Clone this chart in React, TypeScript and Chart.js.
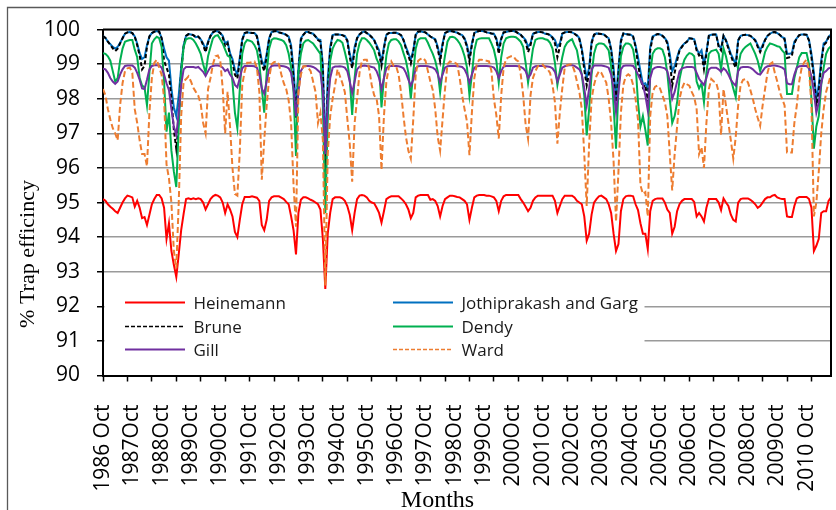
import React, { useEffect, useRef } from 'react';
import { Chart, registerables } from 'chart.js';

Chart.register(...registerables);

// Year labels shown every 12 months, starting October 1986
const yearLabels = [
  '1986 Oct', '1987Oct', '1988Oct', '1989Oct', '1990Oct', '1991Oct', '1992Oct',
  '1993Oct', '1994Oct', '1995Oct', '1996Oct', '1997Oct', '1998Oct', '1999Oct',
  '2000Oct', '2001Oct', '2002Oct', '2003Oct', '2004Oct', '2005Oct', '2006Oct',
  '2007Oct', '2008Oct', '2009Oct', '2010 Oct',
];

// Monthly trap efficiency (%), Oct 1986 onwards, one row per water year
const heinemann = [
  95.1, 95.05, 94.95, 94.88, 94.82, 94.75, 94.7, 94.85, 95.0, 95.12, 95.2, 95.18,
  95.15, 94.88, 95.05, 94.85, 94.55, 94.58, 94.35, 94.65, 94.95, 95.1, 95.22, 95.22,
  95.12, 94.85, 93.95, 94.4, 93.6, 93.2, 92.85, 93.5, 94.2, 94.67, 95.1, 95.12,
  95.1, 95.12, 95.1, 95.12, 95.1, 95.0, 94.8, 94.95, 95.1, 95.18, 95.22, 95.2,
  95.15, 95.0, 94.7, 94.95, 94.8, 94.6, 94.15, 94.0, 94.5, 94.95, 95.16, 95.16,
  95.16, 95.18, 95.16, 95.14, 95.05, 94.35, 94.2, 94.5, 95.05, 95.15, 95.18, 95.18,
  95.18, 95.14, 95.1, 95.02, 94.95, 94.6, 94.2, 93.5, 94.7, 95.08, 95.15, 95.15,
  95.12, 95.08, 95.05, 95.0, 94.95, 94.8, 93.95, 92.5, 94.1, 94.7, 95.1, 95.15,
  95.15, 95.15, 95.12, 95.05, 94.9, 94.65, 94.2, 94.7, 95.1, 95.2, 95.22, 95.2,
  95.15, 95.05, 95.0, 94.98, 94.85, 94.7, 94.42, 94.75, 95.1, 95.15, 95.18, 95.18,
  95.18, 95.18, 95.12, 95.05, 94.95, 94.8, 94.55, 94.7, 95.15, 95.2, 95.22, 95.22,
  95.22, 95.22, 95.08, 95.1, 95.05, 94.9, 94.6, 94.9, 95.1, 95.15, 95.2, 95.2,
  95.18, 95.16, 95.15, 95.1, 95.05, 94.95, 94.5, 94.85, 95.15, 95.2, 95.22, 95.22,
  95.22, 95.2, 95.2, 95.18, 95.15, 95.05, 94.75, 95.05, 95.18, 95.22, 95.22, 95.22,
  95.22, 95.22, 95.22, 95.1, 95.0, 94.88, 94.75, 94.85, 95.05, 95.15, 95.2, 95.2,
  95.2, 95.2, 95.2, 95.2, 95.2, 95.05, 94.7, 94.9, 95.1, 95.2, 95.2, 95.2,
  95.2, 95.15, 95.05, 95.0, 94.95, 94.6, 93.9, 94.1, 94.65, 95.0, 95.1, 95.18,
  95.2, 95.15, 95.1, 94.95, 94.7, 94.1, 93.6, 93.8, 94.75, 95.1, 95.18, 95.2,
  95.2, 95.18, 94.95, 94.78, 94.4, 94.1, 94.1, 93.65, 94.75, 95.05, 95.1, 95.12,
  95.12, 95.12, 95.0, 94.8, 94.7, 94.1, 94.3, 94.75, 94.95, 95.05, 95.1, 95.1,
  95.1, 95.1, 95.02, 94.6, 94.7, 94.6, 94.45, 94.85, 95.1, 95.1, 95.1, 95.1,
  95.0, 94.78, 95.12, 95.0, 94.9, 94.65, 94.5, 94.45, 95.0, 95.1, 95.12, 95.12,
  95.12, 95.08, 95.02, 94.95, 94.85, 94.9, 95.0, 95.1, 95.15, 95.15, 95.2, 95.22,
  95.15, 95.12, 95.1, 95.1, 94.6, 94.58, 94.58, 94.9, 95.12, 95.16, 95.16, 95.16,
  95.16, 95.1, 94.85, 93.6, 93.75, 93.95, 94.7, 94.75, 94.75, 95.05, 95.15,
];

const jothiprakash = [
  99.81, 99.76, 99.65, 99.58, 99.5, 99.45, 99.5, 99.62, 99.75, 99.88, 99.92, 99.93,
  99.9, 99.8, 99.6, 99.32, 99.15, 99.2, 99.55, 99.8, 99.9, 99.94, 99.96, 99.94,
  99.75, 99.45, 99.2, 99.1, 98.3, 97.75, 97.5, 98.1, 98.9, 99.55, 99.82, 99.87,
  99.86, 99.84, 99.78, 99.8, 99.72, 99.6, 99.42, 99.65, 99.82, 99.92, 99.96, 99.95,
  99.9, 99.82, 99.6, 99.65, 99.32, 99.15, 98.85, 98.7, 99.2, 99.72, 99.9, 99.92,
  99.91, 99.9, 99.9, 99.82, 99.5, 99.1, 98.95, 99.3, 99.75, 99.93, 99.95, 99.96,
  99.92, 99.9, 99.88, 99.85, 99.8, 99.55, 98.85, 97.7, 98.9, 99.75, 99.85, 99.93,
  99.93, 99.9, 99.88, 99.8, 99.72, 99.7, 99.0, 96.5, 98.6, 99.5, 99.84, 99.86,
  99.86, 99.85, 99.84, 99.82, 99.7, 99.3, 99.0, 99.5, 99.75, 99.86, 99.92, 99.95,
  99.9, 99.85, 99.78, 99.7, 99.55, 99.4, 99.05, 99.5, 99.85, 99.9, 99.9, 99.91,
  99.91, 99.88, 99.84, 99.7, 99.5, 99.32, 99.13, 99.4, 99.85, 99.94, 99.95, 99.93,
  99.92, 99.86, 99.8, 99.76, 99.72, 99.51, 99.18, 99.6, 99.9, 99.94, 99.96, 99.95,
  99.93, 99.91, 99.87, 99.84, 99.75, 99.55, 99.18, 99.6, 99.9, 99.94, 99.96, 99.96,
  99.95, 99.92, 99.91, 99.89, 99.88, 99.75, 99.45, 99.75, 99.92, 99.93, 99.95, 99.96,
  99.96, 99.94, 99.89, 99.85, 99.78, 99.7, 99.5, 99.6, 99.88, 99.91, 99.93, 99.93,
  99.92, 99.88, 99.87, 99.84, 99.78, 99.7, 99.5, 99.6, 99.88, 99.92, 99.93, 99.93,
  99.92, 99.88, 99.84, 99.75, 99.45, 99.0, 98.6, 98.9, 99.65, 99.85, 99.89, 99.88,
  99.87, 99.86, 99.8, 99.75, 99.45, 98.9, 98.0, 98.9, 99.7, 99.89, 99.87, 99.86,
  99.85, 99.8, 99.55, 99.2, 98.8, 98.42, 98.45, 98.3, 99.5, 99.8, 99.84, 99.87,
  99.86, 99.82, 99.75, 99.65, 99.3, 98.8, 98.95, 99.2, 99.42, 99.52, 99.6, 99.65,
  99.75, 99.74, 99.72, 99.45, 99.3, 99.4, 99.0, 99.35, 99.82, 99.85, 99.86, 99.86,
  99.55, 99.45, 99.82, 99.7, 99.5, 99.3, 99.15, 99.0, 99.7, 99.82, 99.84, 99.85,
  99.84, 99.82, 99.76, 99.7, 99.55, 99.4, 99.55, 99.7, 99.82, 99.88, 99.92, 99.93,
  99.9, 99.85, 99.78, 99.75, 99.3, 99.3, 99.32, 99.65, 99.75, 99.84, 99.86, 99.86,
  99.85, 99.7, 99.3, 98.75, 98.0, 98.4, 99.1, 99.6, 99.65, 99.79, 99.86,
];

const brune = [
  99.81, 99.76, 99.65, 99.56, 99.46, 99.38, 99.45, 99.6, 99.75, 99.88, 99.92, 99.93,
  99.9, 99.8, 99.55, 99.25, 98.85, 98.95, 99.5, 99.8, 99.9, 99.94, 99.96, 99.94,
  99.75, 99.1, 98.9, 98.7, 98.0, 97.1, 96.55, 97.4, 98.8, 99.5, 99.82, 99.87,
  99.86, 99.84, 99.78, 99.8, 99.72, 99.55, 99.35, 99.62, 99.82, 99.92, 99.96, 99.95,
  99.9, 99.78, 99.5, 99.6, 99.25, 99.05, 98.7, 98.58, 99.1, 99.7, 99.9, 99.92,
  99.91, 99.9, 99.9, 99.8, 99.4, 99.0, 98.8, 99.2, 99.72, 99.93, 99.95, 99.96,
  99.92, 99.9, 99.88, 99.85, 99.78, 99.45, 98.57, 97.45, 98.7, 99.7, 99.85, 99.93,
  99.93, 99.9, 99.88, 99.8, 99.7, 99.65, 98.8, 95.7, 98.2, 99.4, 99.84, 99.86,
  99.86, 99.85, 99.84, 99.8, 99.68, 99.2, 98.88, 99.4, 99.75, 99.86, 99.92, 99.95,
  99.9, 99.85, 99.78, 99.7, 99.5, 99.3, 98.95, 99.45, 99.85, 99.9, 99.9, 99.91,
  99.91, 99.88, 99.84, 99.7, 99.45, 99.25, 99.02, 99.35, 99.85, 99.94, 99.95, 99.93,
  99.92, 99.86, 99.8, 99.76, 99.7, 99.45, 99.08, 99.55, 99.9, 99.94, 99.96, 99.95,
  99.93, 99.91, 99.87, 99.84, 99.72, 99.5, 99.08, 99.55, 99.9, 99.94, 99.96, 99.96,
  99.95, 99.92, 99.91, 99.89, 99.88, 99.72, 99.3, 99.72, 99.92, 99.93, 99.95, 99.96,
  99.96, 99.94, 99.89, 99.85, 99.76, 99.65, 99.35, 99.55, 99.88, 99.91, 99.93, 99.93,
  99.92, 99.88, 99.87, 99.84, 99.76, 99.6, 99.2, 99.5, 99.88, 99.92, 99.93, 99.93,
  99.92, 99.88, 99.82, 99.72, 99.4, 98.85, 98.38, 98.75, 99.6, 99.85, 99.89, 99.88,
  99.87, 99.86, 99.8, 99.73, 99.4, 98.7, 97.8, 98.7, 99.65, 99.89, 99.87, 99.86,
  99.85, 99.8, 99.5, 99.0, 98.6, 98.32, 98.4, 97.9, 99.4, 99.78, 99.84, 99.87,
  99.86, 99.82, 99.75, 99.6, 99.15, 98.38, 98.75, 99.1, 99.4, 99.5, 99.6, 99.65,
  99.75, 99.74, 99.7, 99.4, 99.25, 99.3, 98.85, 99.3, 99.82, 99.85, 99.86, 99.86,
  99.5, 99.4, 99.82, 99.68, 99.45, 99.25, 99.05, 98.9, 99.68, 99.82, 99.84, 99.85,
  99.84, 99.82, 99.76, 99.68, 99.5, 99.35, 99.5, 99.7, 99.82, 99.88, 99.92, 99.93,
  99.9, 99.85, 99.78, 99.72, 99.18, 99.2, 99.25, 99.6, 99.75, 99.84, 99.86, 99.86,
  99.85, 99.68, 99.2, 98.6, 97.8, 98.2, 99.0, 99.55, 99.62, 99.78, 99.86,
];

const dendy = [
  99.32, 99.3, 99.23, 99.1, 98.8, 98.5, 98.6, 99.1, 99.45, 99.65, 99.68, 99.7,
  99.7, 99.42, 99.2, 98.6, 98.38, 98.33, 97.81, 98.75, 99.6, 99.72, 99.79, 99.75,
  99.5, 98.5, 97.05, 97.6, 96.5, 95.9, 95.45, 97.2, 98.75, 99.5, 99.72, 99.75,
  99.75, 99.7, 99.6, 99.46, 99.3, 99.0, 98.75, 99.23, 99.5, 99.75, 99.82, 99.84,
  99.72, 99.6, 99.42, 99.25, 99.2, 98.47, 97.6, 97.15, 98.28, 99.3, 99.6, 99.7,
  99.68, 99.65, 99.55, 99.4, 99.0, 98.3, 97.6, 98.75, 99.45, 99.7, 99.75, 99.74,
  99.72, 99.7, 99.66, 99.55, 99.3, 98.9, 98.2, 96.35, 98.75, 99.3, 99.6, 99.68,
  99.7, 99.65, 99.6, 99.5, 99.4, 99.3, 97.8, 94.7, 97.4, 99.1, 99.45, 99.6,
  99.7, 99.68, 99.62, 99.35, 99.05, 98.57, 97.53, 98.6, 99.3, 99.6, 99.75, 99.75,
  99.7, 99.62, 99.52, 99.4, 99.15, 99.0, 97.75, 98.6, 99.25, 99.6, 99.7, 99.72,
  99.72, 99.66, 99.55, 99.32, 99.1, 98.75, 98.0, 98.75, 99.45, 99.7, 99.75, 99.75,
  99.75, 99.62, 99.45, 99.3, 99.1, 98.8, 98.19, 98.8, 99.25, 99.65, 99.78, 99.79,
  99.77, 99.7, 99.6, 99.45, 99.23, 98.9, 98.1, 98.7, 99.4, 99.7, 99.74, 99.75,
  99.75, 99.75, 99.75, 99.6, 99.42, 99.1, 98.47, 99.2, 99.6, 99.75, 99.78, 99.79,
  99.79, 99.78, 99.72, 99.65, 99.5, 99.04, 98.47, 98.95, 99.45, 99.7, 99.74, 99.75,
  99.75, 99.72, 99.7, 99.62, 99.45, 99.04, 98.4, 98.8, 99.2, 99.5, 99.62, 99.68,
  99.72, 99.55, 99.4, 99.0, 98.7, 98.1, 96.94, 97.7, 98.7, 99.3, 99.55, 99.6,
  99.6, 99.58, 99.5, 99.4, 98.94, 97.8, 96.56, 98.28, 99.23, 99.5, 99.6, 99.6,
  99.56, 99.42, 99.0, 97.9, 97.2, 97.5, 97.1, 96.65, 98.75, 99.3, 99.42, 99.46,
  99.46, 99.42, 99.2, 98.75, 98.0, 97.3, 97.5, 97.9, 98.57, 98.9, 99.13, 99.25,
  99.32, 99.3, 99.23, 98.5, 98.3, 98.45, 97.9, 98.75, 99.3, 99.38, 99.4, 99.42,
  99.3, 98.85, 99.46, 99.23, 98.9, 98.57, 98.3, 98.05, 98.94, 99.3, 99.42, 99.5,
  99.55, 99.6, 99.45, 99.3, 99.1, 98.8, 99.05, 99.35, 99.5, 99.6, 99.58, 99.55,
  99.52, 99.5, 99.4, 99.32, 98.14, 98.14, 98.14, 98.6, 98.9, 99.2, 99.32, 99.32,
  99.32, 99.0, 98.0, 96.56, 97.2, 97.5, 98.4, 98.9, 99.3, 99.45, 99.52,
];

const gill = [
  98.87, 98.85, 98.75, 98.6, 98.5, 98.43, 98.5, 98.7, 98.85, 98.95, 98.96, 98.96,
  98.96, 98.9, 98.75, 98.55, 98.3, 98.28, 98.55, 98.85, 98.95, 98.97, 98.97, 98.96,
  98.9, 98.7, 98.45, 98.25, 97.7, 97.2, 96.95, 97.6, 98.4, 98.85, 98.92, 98.92,
  98.92, 98.92, 98.9, 98.92, 98.85, 98.78, 98.66, 98.8, 98.92, 98.95, 98.96, 98.96,
  98.95, 98.9, 98.8, 98.85, 98.7, 98.6, 98.4, 98.33, 98.6, 98.88, 98.95, 98.95,
  98.95, 98.95, 98.94, 98.9, 98.7, 98.3, 98.15, 98.5, 98.85, 98.95, 98.96, 98.96,
  98.96, 98.95, 98.94, 98.92, 98.88, 98.75, 98.3, 97.5, 98.2, 98.8, 98.93, 98.95,
  98.95, 98.94, 98.92, 98.88, 98.82, 98.75, 98.2, 96.4, 97.9, 98.6, 98.9, 98.93,
  98.93, 98.94, 98.93, 98.9, 98.8, 98.5, 98.17, 98.5, 98.85, 98.93, 98.95, 98.96,
  98.95, 98.94, 98.92, 98.9, 98.8, 98.6, 98.28, 98.6, 98.88, 98.94, 98.95, 98.95,
  98.95, 98.94, 98.92, 98.88, 98.75, 98.55, 98.38, 98.55, 98.88, 98.94, 98.95, 98.95,
  98.95, 98.94, 98.92, 98.9, 98.85, 98.72, 98.47, 98.7, 98.9, 98.94, 98.95, 98.95,
  98.95, 98.94, 98.93, 98.92, 98.85, 98.7, 98.47, 98.7, 98.9, 98.94, 98.95, 98.95,
  98.95, 98.95, 98.94, 98.93, 98.9, 98.8, 98.6, 98.8, 98.93, 98.95, 98.95, 98.95,
  98.95, 98.95, 98.94, 98.92, 98.88, 98.8, 98.6, 98.7, 98.9, 98.94, 98.95, 98.95,
  98.95, 98.94, 98.93, 98.92, 98.88, 98.78, 98.5, 98.7, 98.9, 98.94, 98.96, 98.97,
  98.97, 98.95, 98.9, 98.85, 98.7, 98.3, 97.8, 98.3, 98.85, 98.96, 98.96, 98.96,
  98.96, 98.95, 98.93, 98.9, 98.7, 98.3, 97.62, 98.2, 98.85, 98.95, 98.96, 98.96,
  98.96, 98.95, 98.85, 98.7, 98.55, 98.4, 98.1, 97.67, 98.6, 98.85, 98.9, 98.92,
  98.92, 98.9, 98.88, 98.8, 98.5, 98.0, 98.2, 98.5, 98.8, 98.88, 98.9, 98.92,
  98.92, 98.92, 98.9, 98.75, 98.58, 98.48, 98.4, 98.6, 98.85, 98.9, 98.9, 98.9,
  98.85, 98.78, 98.88, 98.82, 98.7, 98.55, 98.45, 98.38, 98.8, 98.9, 98.92, 98.92,
  98.92, 98.9, 98.85, 98.78, 98.72, 98.7, 98.8, 98.9, 98.94, 98.95, 98.96, 98.96,
  98.95, 98.93, 98.9, 98.85, 98.45, 98.42, 98.42, 98.7, 98.9, 98.94, 98.95, 98.95,
  98.95, 98.88, 98.65, 98.2, 97.6, 97.9, 98.45, 98.75, 98.8, 98.88, 98.9,
];

const ward = [
  98.28, 98.1, 97.7, 97.4, 97.15, 97.0, 96.8, 97.81, 98.45, 98.8, 98.88, 98.9,
  98.75, 97.7, 97.3, 96.8, 96.4, 96.4, 96.05, 97.6, 98.6, 99.04, 99.13, 98.9,
  98.7, 98.0, 96.1, 95.7, 95.0, 93.6, 93.1, 95.0, 97.5, 98.5, 98.57, 98.65,
  98.5, 98.32, 98.2, 98.09, 97.85, 97.3, 97.0, 98.28, 98.6, 99.0, 99.23, 99.25,
  99.1, 98.3, 97.0, 98.2, 97.2, 96.0, 95.25, 95.2, 96.5, 98.4, 98.8, 99.04,
  99.04, 99.06, 99.08, 98.9, 98.2, 95.66, 96.8, 97.81, 98.6, 99.0, 99.06, 99.08,
  99.0, 98.7, 98.45, 98.28, 97.95, 97.3, 95.5, 94.3, 98.2, 98.7, 98.94, 98.94,
  98.9, 98.8, 98.5, 98.2, 97.3, 97.6, 96.8, 92.6, 96.4, 97.5, 98.0, 98.4,
  98.85, 98.65, 98.45, 98.19, 97.43, 96.7, 95.6, 97.3, 98.0, 98.75, 99.1, 99.13,
  99.13, 98.85, 98.4, 98.1, 98.0, 97.5, 95.94, 97.5, 98.5, 98.9, 99.08, 98.95,
  98.94, 98.7, 98.19, 97.5, 96.9, 96.5, 96.27, 97.4, 98.7, 99.1, 99.15, 99.18,
  99.1, 98.8, 98.5, 98.25, 97.7, 96.9, 96.5, 97.4, 98.28, 99.0, 99.08, 99.05,
  99.04, 99.0, 98.6, 98.1, 97.7, 97.34, 96.37, 97.6, 98.6, 99.0, 99.13, 99.13,
  99.1, 99.1, 99.08, 98.8, 98.0, 97.53, 96.85, 98.1, 98.9, 99.15, 99.2, 99.23,
  99.23, 99.13, 99.08, 98.7, 98.1, 97.25, 96.84, 98.1, 98.6, 98.8, 98.94, 98.97,
  98.99, 98.9, 98.85, 98.75, 98.4, 97.9, 96.7, 97.6, 98.3, 98.9, 98.97, 98.99,
  99.0, 98.8, 98.5, 98.2, 97.7, 96.4, 94.9, 96.7, 98.0, 98.4, 98.66, 98.8,
  98.75, 98.6, 98.47, 98.0, 97.3, 96.2, 94.45, 95.9, 97.6, 98.4, 98.65, 98.71,
  98.65, 98.4, 98.0, 97.4, 95.5, 95.25, 95.3, 94.6, 97.5, 98.2, 98.35, 98.38,
  98.3, 98.1, 97.9, 97.5, 96.4, 95.35, 96.4, 97.2, 98.0, 98.3, 98.47, 98.42,
  98.38, 98.2, 98.05, 97.7, 96.4, 96.6, 96.0, 97.3, 98.28, 98.57, 98.5, 98.47,
  98.2, 96.96, 98.28, 97.81, 97.3, 96.8, 96.27, 96.9, 97.81, 98.4, 98.55, 98.57,
  98.47, 98.25, 98.0, 97.7, 97.45, 97.22, 97.8, 98.28, 98.75, 99.0, 99.05, 98.75,
  98.5, 98.2, 98.0, 97.81, 96.45, 96.45, 96.45, 97.3, 97.81, 98.5, 98.9, 99.05,
  99.13, 98.85, 97.8, 94.6, 95.0, 95.9, 97.0, 97.7, 98.2, 98.45, 98.7,
];

const yTicks = { min: 90, max: 100, step: 1 };

type Series = { label: string; data: number[]; color: string; dash: number[]; z: number };

const series: Series[] = [
  { label: 'Heinemann', data: heinemann, color: '#FF0000', dash: [], z: 5 },
  { label: 'Jothiprakash and Garg', data: jothiprakash, color: '#0070C0', dash: [], z: 4 },
  { label: 'Brune', data: brune, color: '#000000', dash: [4, 2.5], z: 3 },
  { label: 'Dendy', data: dendy, color: '#00B050', dash: [], z: 2 },
  { label: 'Gill', data: gill, color: '#7030A0', dash: [], z: 1 },
  { label: 'Ward', data: ward, color: '#ED7D31', dash: [6, 3], z: 0 },
];

const W = 836;
const H = 510;
const PLOT = { left: 103, top: 22.5, right: 831, bottom: 375.5 };

const TICK_FONT = { family: "'Open Sans', sans-serif", size: 21 };

// Frame, legend box and axis titles drawn onto the chart canvas
const decorations = {
  id: 'decorations',
  beforeDraw(chart: any) {
    const { ctx } = chart;
    ctx.save();
    ctx.fillStyle = '#ffffff';
    ctx.fillRect(0, 0, chart.width, chart.height);
    ctx.strokeStyle = '#595959';
    ctx.lineWidth = 1.3;
    ctx.beginPath();
    ctx.moveTo(7.5, chart.height);
    ctx.lineTo(7.5, 7.5);
    ctx.lineTo(chart.width, 7.5);
    ctx.stroke();
    ctx.restore();
  },
  afterDatasetsDraw(chart: any) {
    const { ctx, chartArea: a } = chart;
    ctx.save();

    // plot frame: top and right edges
    ctx.strokeStyle = '#000';
    ctx.lineWidth = 2;
    ctx.beginPath();
    ctx.moveTo(a.left, a.top);
    ctx.lineTo(a.right, a.top);
    ctx.lineTo(a.right, a.bottom);
    ctx.stroke();

    // legend panel
    ctx.fillStyle = '#ffffff';
    ctx.fillRect(a.left + 1.5, 290, 643 - a.left, 78);

    const colX = [125, 393];
    const rowY = [302.5, 326.5, 349.5];
    ctx.font = "17px 'Open Sans', sans-serif";
    ctx.textBaseline = 'alphabetic';
    ctx.textAlign = 'left';
    series.forEach((s, i) => {
      const col = i % 2;
      const row = Math.floor(i / 2);
      const x = colX[col];
      const y = rowY[row];
      ctx.strokeStyle = s.color;
      ctx.lineWidth = s.dash.length ? 1.5 : 2;
      ctx.setLineDash(s.dash.length ? [4, 2] : []);
      ctx.beginPath();
      ctx.moveTo(x, y);
      ctx.lineTo(x + 60, y);
      ctx.stroke();
      ctx.setLineDash([]);
      ctx.fillStyle = '#1a1a1a';
      ctx.fillText(s.label, x + 68.5, y + 6);
    });

    ctx.restore();
  },
  afterDraw(chart: any) {
    const { ctx } = chart;
    ctx.save();
    ctx.fillStyle = '#000';
    ctx.font = "24px 'Liberation Serif', serif";
    ctx.textAlign = 'center';
    ctx.textBaseline = 'alphabetic';
    ctx.fillText('Months', 437.5, 506.5);

    ctx.font = "22px 'Liberation Serif', serif";
    ctx.translate(33.5, 254);
    ctx.rotate(-Math.PI / 2);
    ctx.fillText('% Trap efficincy', 0, 0);
    ctx.restore();
  },
};

export default function App() {
  const canvasRef = useRef<HTMLCanvasElement | null>(null);

  useEffect(() => {
    const canvas = canvasRef.current;
    if (!canvas) return;

    const last = heinemann.length - 1;

    const chart = new Chart(canvas, {
      type: 'line',
      data: {
        datasets: series.map((s) => ({
          label: s.label,
          data: s.data.map((v, i) => ({ x: i, y: v })),
          borderColor: s.color,
          backgroundColor: s.color,
          borderWidth: 2,
          borderDash: s.dash,
          pointRadius: 0,
          tension: 0,
          fill: false,
          order: s.z,
        })),
      },
      options: {
        animation: false,
        responsive: false,
        events: [],
        layout: {
          padding: { left: 0, top: PLOT.top, right: W - PLOT.right, bottom: 0 },
        },
        plugins: {
          legend: { display: false },
          tooltip: { enabled: false },
          title: { display: false },
        },
        scales: {
          x: {
            type: 'linear',
            min: 0,
            max: last,
            afterBuildTicks: (scale: any) => {
              const ticks = [];
              for (let v = 0; v <= last; v++) {
                if (v % 10 === 0 || v % 12 === 0) ticks.push({ value: v });
              }
              scale.ticks = ticks;
            },
            afterFit: (scale: any) => {
              scale.height = H - PLOT.bottom;
              scale.paddingLeft = 0;
              scale.paddingRight = 0;
            },
            ticks: {
              autoSkip: false,
              minRotation: 90,
              maxRotation: 90,
              padding: 23,
              color: '#000',
              font: TICK_FONT,
              callback: (value: any) =>
                value % 12 === 0 ? yearLabels[value / 12] ?? '' : '',
            },
            grid: {
              drawOnChartArea: false,
              drawTicks: true,
              tickLength: 6,
              tickWidth: 1.5,
              tickColor: (ctx: any) =>
                ctx.tick && ctx.tick.value % 10 === 0 ? '#000' : 'rgba(0,0,0,0)',
            },
            border: { color: '#000', width: 2 },
          },
          y: {
            min: yTicks.min,
            max: yTicks.max,
            afterFit: (scale: any) => {
              scale.width = PLOT.left;
            },
            ticks: {
              stepSize: yTicks.step,
              padding: 17,
              color: '#000',
              font: TICK_FONT,
            },
            grid: {
              color: '#9a9a9a',
              lineWidth: 1.5,
              tickColor: '#000',
              tickLength: 6,
              tickWidth: 1.5,
            },
            border: { color: '#000', width: 2 },
          },
        },
      },
      plugins: [decorations],
    });

    return () => chart.destroy();
  }, []);

  return (
    <div style={{ position: 'absolute', left: 0, top: 0, width: W, height: H }}>
      <canvas ref={canvasRef} width={W} height={H} style={{ width: W, height: H }} />
    </div>
  );
}
